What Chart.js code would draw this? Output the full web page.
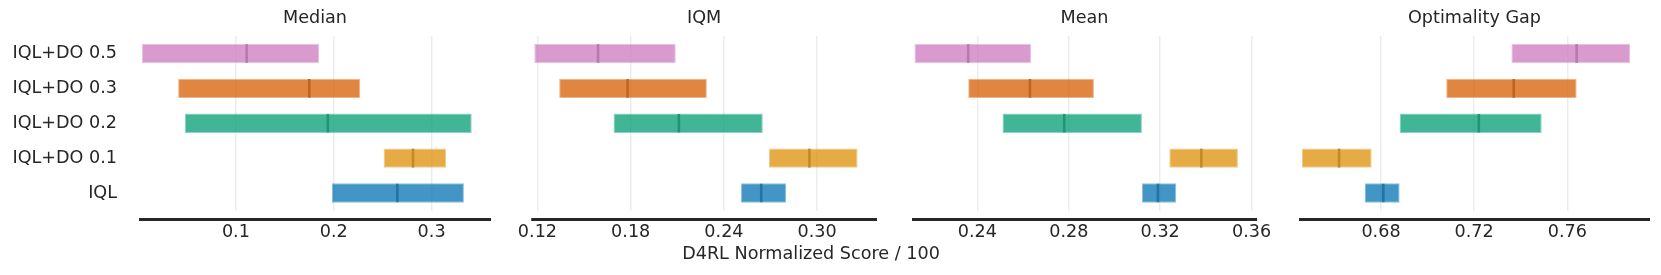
<!DOCTYPE html>
<html>
<head>
<meta charset="utf-8">
<script src="https://cdn.jsdelivr.net/npm/chart.js@4.4.1/dist/chart.umd.min.js"></script>
<style>
  html, body { margin: 0; padding: 0; background: #fff; overflow: hidden; }
  #wrap { position: relative; width: 1661px; height: 275px; }
  canvas { position: absolute; top: 0; }
  #xlabel {
    position: absolute; left: 561px; top: 242px; width: 500px; text-align: center;
    font-family: 'DejaVu Sans', sans-serif; font-size: 17.6px; line-height: 22px; color: #262626;
  }
</style>
</head>
<body>
<div id="wrap">
  <canvas id="c0" width="511" height="275" style="left:0px"></canvas>
  <canvas id="c1" width="391" height="275" style="left:506px"></canvas>
  <canvas id="c2" width="391" height="275" style="left:892px"></canvas>
  <canvas id="c3" width="391" height="275" style="left:1279px"></canvas>
  <div id="xlabel">D4RL Normalized Score / 100</div>
</div>
<script>
// methods, top to bottom
const METHODS = ['IQL+DO 0.5', 'IQL+DO 0.3', 'IQL+DO 0.2', 'IQL+DO 0.1', 'IQL'];
const COLORS  = ['204,120,188', '213,94,0', '2,158,115', '222,143,5', '1,115,178'];

// interval estimates
const MEDIAN_LOW   = [0.004, 0.041, 0.048, 0.251, 0.198];
const MEDIAN_HIGH  = [0.185, 0.227, 0.341, 0.315, 0.333];
const MEDIAN_POINT = [0.111, 0.175, 0.194, 0.281, 0.265];

const IQM_LOW   = [0.118, 0.134, 0.169, 0.269, 0.251];
const IQM_HIGH  = [0.209, 0.229, 0.265, 0.326, 0.280];
const IQM_POINT = [0.159, 0.178, 0.211, 0.295, 0.264];

const MEAN_LOW   = [0.2125, 0.236, 0.251, 0.324, 0.312];
const MEAN_HIGH  = [0.2635, 0.291, 0.312, 0.354, 0.327];
const MEAN_POINT = [0.236, 0.263, 0.278, 0.338, 0.319];

const GAP_LOW   = [0.736, 0.708, 0.688, 0.646, 0.673];
const GAP_HIGH  = [0.787, 0.764, 0.749, 0.676, 0.688];
const GAP_POINT = [0.764, 0.737, 0.722, 0.662, 0.681];

const MEDIAN_TICKS = [0.1, 0.2, 0.3];
const IQM_TICKS    = [0.12, 0.18, 0.24, 0.30];
const MEAN_TICKS   = [0.24, 0.28, 0.32, 0.36];
const GAP_TICKS    = [0.68, 0.72, 0.76];

const TEXT = '#262626';
const FONT = { family: "'DejaVu Sans', sans-serif", size: 17.6 };
Chart.defaults.font.family = FONT.family;
Chart.defaults.color = TEXT;

// thick bottom spine, offset a bit below the plot area
const spinePlugin = {
  id: 'spine',
  afterDraw(chart) {
    const { ctx, chartArea: a } = chart;
    ctx.save();
    ctx.fillStyle = TEXT;
    ctx.fillRect(a.left, a.bottom + 7.5, a.right - a.left, 3);
    ctx.restore();
  }
};

function makePanel(id, title, low, high, point, ticks, min, max, decimals, first) {
  const ctx = document.getElementById(id);
  new Chart(ctx, {
    type: 'bar',
    data: {
      labels: METHODS,
      datasets: [
        {
          type: 'bar',
          data: METHODS.map((m, i) => [low[i], high[i]]),
          backgroundColor: COLORS.map(c => `rgba(${c},0.75)`),
          borderColor: COLORS.map(c => `rgba(${c},0.45)`),
          borderWidth: 1,
          borderSkipped: false,
          barPercentage: 0.555,
          categoryPercentage: 1,
        },
        {
          type: 'scatter',
          data: METHODS.map((m, i) => ({ x: point[i], y: m })),
          pointStyle: 'line',
          rotation: 90,
          radius: 9.3,
          hoverRadius: 9.3,
          borderWidth: 2.6,
          borderColor: 'rgba(0,0,0,0.52)',
        }
      ]
    },
    options: {
      indexAxis: 'y',
      responsive: false,
      animation: false,
      layout: { padding: { left: first ? 0 : 20, right: 20, top: 0, bottom: 24.5 } },
      plugins: {
        legend: { display: false },
        tooltip: { enabled: false },
        title: {
          display: true, text: title, fullSize: false, color: TEXT,
          font: { size: FONT.size, weight: 'normal' },
          padding: { top: 8.2, bottom: 6.7 }
        }
      },
      scales: {
        x: {
          type: 'linear', min, max,
          afterBuildTicks: s => { s.ticks = ticks.map(v => ({ value: v })); },
          afterFit: s => { s.height = 40; },
          grid: { color: 'rgba(0,0,0,0.075)', lineWidth: 1.5, drawTicks: false },
          border: { display: false },
          ticks: { color: TEXT, font: { size: FONT.size }, padding: 11.4, maxRotation: 0,
                   callback: v => v.toFixed(decimals) }
        },
        y: {
          type: 'category', labels: METHODS, offset: true,
          display: first,
          afterFit: s => { if (first) s.width = 139; },
          grid: { display: false, drawTicks: false },
          border: { display: false },
          ticks: { color: TEXT, font: { size: FONT.size }, padding: 22 }
        }
      }
    },
    plugins: [spinePlugin]
  });
}

makePanel('c0', 'Median', MEDIAN_LOW, MEDIAN_HIGH, MEDIAN_POINT, MEDIAN_TICKS, 0.001, 0.3607, 1, true);
makePanel('c1', 'IQM', IQM_LOW, IQM_HIGH, IQM_POINT, IQM_TICKS, 0.116, 0.3385, 2, false);
makePanel('c2', 'Mean', MEAN_LOW, MEAN_HIGH, MEAN_POINT, MEAN_TICKS, 0.2114, 0.3624, 2, false);
makePanel('c3', 'Optimality Gap', GAP_LOW, GAP_HIGH, GAP_POINT, GAP_TICKS, 0.6448, 0.7955, 2, false);
</script>
</body>
</html>
